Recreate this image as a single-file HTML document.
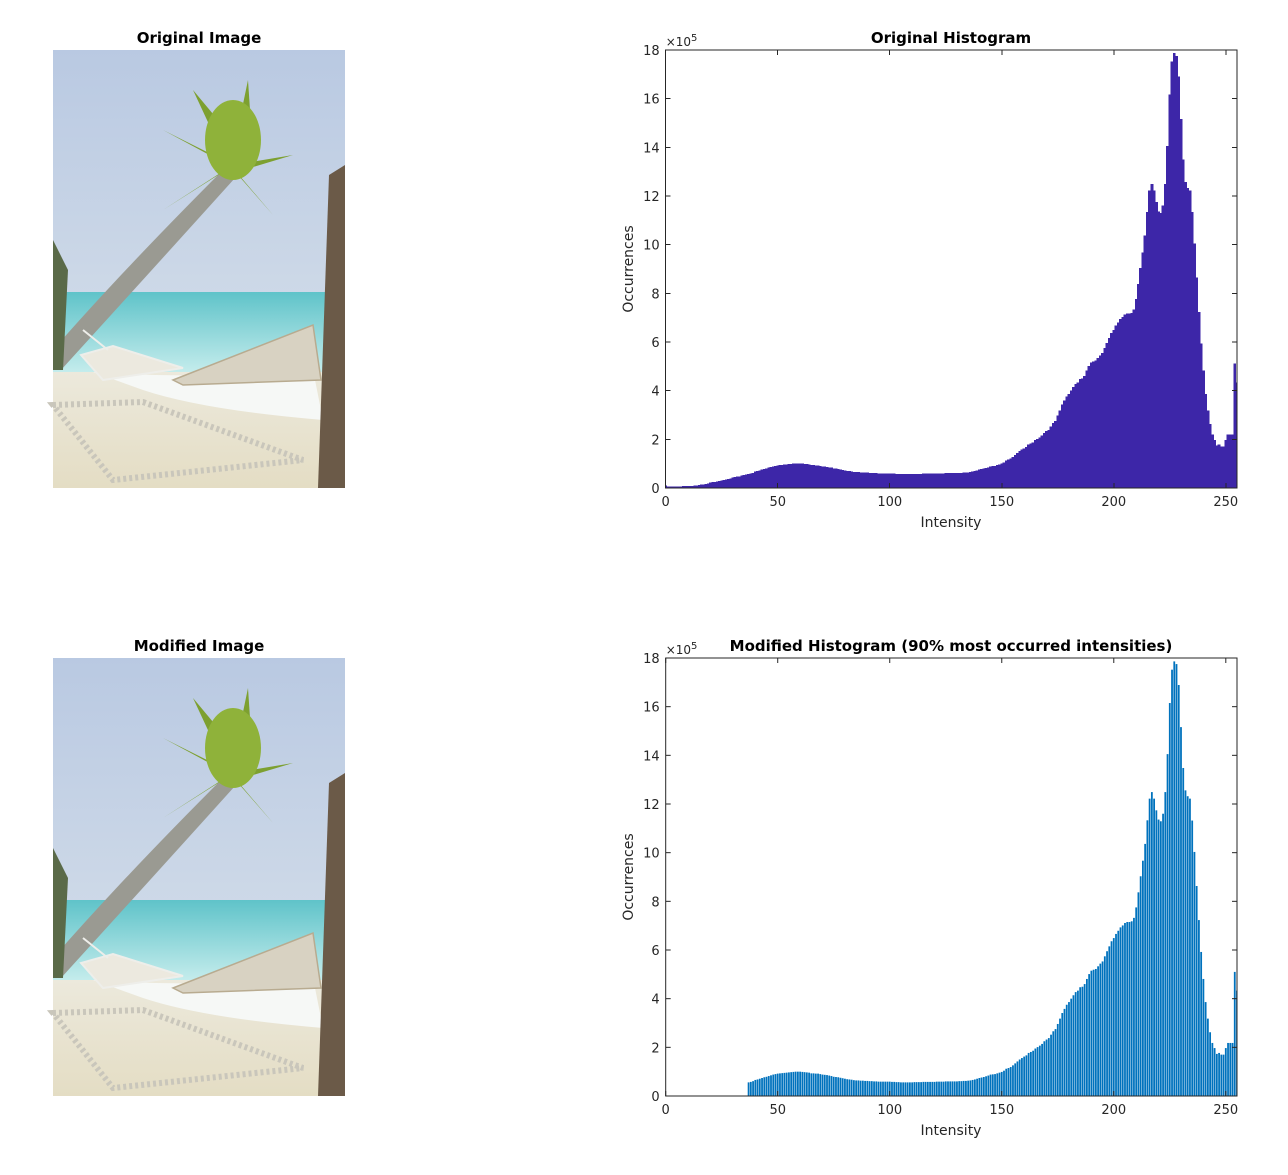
<!DOCTYPE html>
<html><head><meta charset="utf-8"><style>
body{margin:0;background:#fff;width:1288px;height:1170px;overflow:hidden;font-family:"Liberation Sans","DejaVu Sans",sans-serif}
svg text{font-family:"DejaVu Sans","Liberation Sans",sans-serif}
</style></head><body>
<svg id="root" width="1288" height="1170" viewBox="0 0 1288 1170">
<defs>
<linearGradient id="sky" x1="0" y1="0" x2="0" y2="1"><stop offset="0" stop-color="#b9c9e2"/><stop offset="1" stop-color="#dde5ec"/></linearGradient>
<linearGradient id="sea" x1="0" y1="0" x2="0" y2="1"><stop offset="0" stop-color="#5fc3c9"/><stop offset="1" stop-color="#c4ecec"/></linearGradient>
<linearGradient id="sand" x1="0" y1="0" x2="0" y2="1"><stop offset="0" stop-color="#ece9dc"/><stop offset="1" stop-color="#e4ddc4"/></linearGradient>
<g id="beach">
<rect x="0" y="0" width="292" height="438" fill="url(#sky)"/>
<rect x="0" y="242" width="292" height="80" fill="url(#sea)"/>
<rect x="0" y="322" width="292" height="116" fill="url(#sand)"/>
<path d="M40 322 Q150 330 260 320 L270 370 Q150 360 90 340 Z" fill="#f6f8f6"/>
<path d="M0 355 L90 352 L250 410 L60 430 Z" fill="none" stroke="#c9c6bb" stroke-width="6" stroke-dasharray="3 3"/>
<path d="M0 300 Q70 220 170 120 L182 128 Q90 230 8 320 Z" fill="#9a9a92"/>
<path d="M30 280 L55 300 M28 305 L50 330 L130 318 L60 296 Z" stroke="#eeeeea" stroke-width="2" fill="#ece9df"/>
<path d="M120 330 L260 275 L268 330 L130 335 Z" fill="#d8d2c2" stroke="#b8ab90" stroke-width="1.5"/>
<g fill="#7da030"><path d="M175 115 L110 80 L160 105 Z"/><path d="M175 115 L140 40 L190 100 Z"/><path d="M178 112 L195 30 L200 105 Z"/><path d="M180 115 L240 105 L190 120 Z"/><path d="M180 118 L220 165 L185 125 Z"/><path d="M175 118 L110 160 L170 122 Z"/><ellipse cx="180" cy="90" rx="28" ry="40" fill="#8fb23a"/></g>
<path d="M276 125 L292 115 L292 438 L265 438 Z" fill="#6b5a48"/>
<path d="M0 190 L15 220 L10 320 L0 320 Z" fill="#5a6a48"/>
</g>
</defs>
<g>
<text x="199" y="43" text-anchor="middle" font-size="15" font-weight="bold" fill="#000">Original Image</text>
<use href="#beach" x="53" y="50"/>
</g>
<g>
<text x="199" y="651" text-anchor="middle" font-size="15" font-weight="bold" fill="#000">Modified Image</text>
<use href="#beach" x="53" y="658"/>
</g>
<g id="h1"></g>
<g id="h2"></g>
</svg>
<script>
const counts=[.10,.05,.05,.05,.05,.05,.05,.05,.06,.06,
.06,.07,.08,.09,.10,.12,.13,.14,.16,.18,
.22,.23,.24,.25,.28,.30,.32,.34,.36,.38,
.41,.43,.45,.47,.50,.52,.54,.56,.58,.61,
.66,.68,.71,.74,.77,.79,.82,.85,.88,.90,
.92,.93,.94,.95,.96,.97,.98,.99,1.0,1.0,
1.0,.99,.98,.97,.96,.93,.93,.92,.92,.90,
.88,.87,.86,.84,.82,.79,.78,.77,.75,.73,
.71,.69,.68,.67,.65,.64,.64,.63,.63,.62,
.62,.61,.61,.60,.60,.59,.59,.59,.59,.59,
.59,.58,.58,.57,.57,.56,.56,.56,.56,.56,
.56,.57,.57,.57,.57,.58,.58,.58,.58,.58,
.58,.59,.59,.59,.59,.60,.60,.60,.60,.60,
.60,.61,.61,.62,.62,.63,.64,.66,.68,.71,
.74,.76,.78,.81,.84,.88,.89,.90,.93,.96,
.99,1.04,1.12,1.15,1.19,1.26,1.34,1.42,1.50,1.56,
1.62,1.67,1.77,1.81,1.86,1.95,2.01,2.07,2.14,2.25,
2.32,2.38,2.52,2.66,2.75,2.96,3.18,3.41,3.58,3.75,
3.86,4.00,4.14,4.27,4.33,4.47,4.49,4.60,4.81,5.01,
5.15,5.19,5.22,5.33,5.44,5.53,5.74,5.95,6.15,6.36,
6.49,6.66,6.79,6.93,7.01,7.11,7.15,7.15,7.18,7.32,
7.75,8.37,9.03,9.67,10.36,11.33,12.22,12.49,12.22,11.74,
11.36,11.29,11.60,12.49,14.05,16.15,17.52,17.86,17.75,16.89,
15.16,13.48,12.56,12.32,12.22,11.32,10.03,8.63,7.23,5.92,
4.81,3.86,3.18,2.62,2.18,1.97,1.73,1.77,1.70,1.70,
1.97,2.18,2.18,2.18,5.10,4.33];
const xTicks=[0,50,100,150,200,250];
const yTicks=[0,2,4,6,8,10,12,14,16,18];
const cutoff=37;
const NS='http://www.w3.org/2000/svg';
function mk(p,t,a){const e=document.createElementNS(NS,t);for(const k in a)e.setAttribute(k,a[k]);p.appendChild(e);return e;}
function hist(g,top,title,color,bw,minI,id,solid){
  const L=665.7,R=1237,B=top+438;
  const xs=v=>L+(v)*(R-L)/255, ys=v=>B-v*(438/18);
  const cp=mk(g,'clipPath',{id:'c'+id});mk(cp,'rect',{x:L,y:top,width:R-L,height:438});
  const bars=mk(g,'g',{'clip-path':'url(#c'+id+')'});
  
  
  counts.forEach((c,i)=>{ if(i<minI)return;
    const x0=xs(i-bw/2),x1=xs(i+bw/2);
    const attrs={x:x0,y:ys(c),width:Math.max(x1-x0,0.5),height:B-ys(c),fill:color};
    if(solid){attrs.stroke=color;attrs['stroke-width']=0.6;}
    const r=mk(bars,'rect',attrs);
    
    
  });
  const ax=mk(g,'rect',{x:L,y:top,width:R-L,height:438,fill:'none',stroke:'#262626','stroke-width':1});
  
  
  xTicks.forEach(t=>{const x=xs(t);
    mk(g,'line',{x1:x,x2:x,y1:B,y2:B-5,stroke:'#262626'});mk(g,'line',{x1:x,x2:x,y1:top,y2:top+5,stroke:'#262626'});
    const tx=mk(g,'text',{x:x,y:B+18,'text-anchor':'middle','font-size':13,fill:'#262626'});tx.textContent=t;
    
    
  });
  yTicks.forEach(t=>{const y=ys(t);
    mk(g,'line',{x1:L,x2:L+5,y1:y,y2:y,stroke:'#262626'});mk(g,'line',{x1:R,x2:R-5,y1:y,y2:y,stroke:'#262626'});
    const tx=mk(g,'text',{x:L-6,y:y+5,'text-anchor':'end','font-size':13,fill:'#262626'});tx.textContent=t;
    
    
  });
  const ex=mk(g,'text',{x:L,y:top-4,'font-size':12,fill:'#262626'});ex.innerHTML='×10<tspan dy="-5" font-size="10">5</tspan>';
  
  
  const tt=mk(g,'text',{x:951,y:top-7,'text-anchor':'middle','font-size':15,'font-weight':'bold',fill:'#000'});tt.textContent=title;
  
  
  const xl=mk(g,'text',{x:951,y:B+39,'text-anchor':'middle','font-size':14,fill:'#262626'});xl.textContent='Intensity';
  
  
  const yl=mk(g,'text',{x:0,y:0,'text-anchor':'middle','font-size':14,fill:'#262626',transform:`translate(633,${top+219}) rotate(-90)`});yl.textContent='Occurrences';
  
  
}
const g1=document.getElementById('h1');


g1.setAttribute('shape-rendering','crispEdges');
hist(g1,50,'Original Histogram','#3d26a8',1,0,1,true);
const g2=document.getElementById('h2');


hist(g2,658,'Modified Histogram (90% most occurred intensities)','#0072bd',0.8,cutoff,2,false);
</script>
</body></html>
